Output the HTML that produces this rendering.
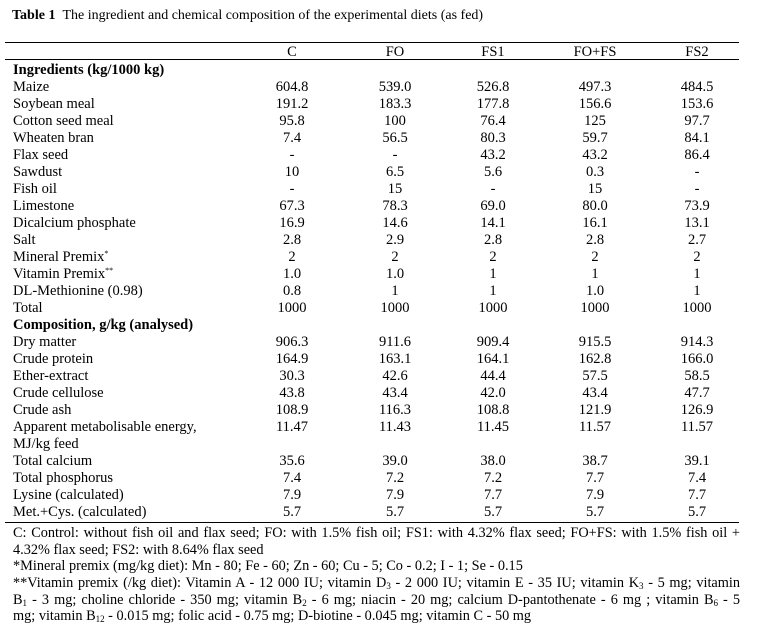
<!DOCTYPE html>
<html><head><meta charset="utf-8">
<style>
body{margin:0;background:#fff;width:758px;height:635px;position:relative;overflow:hidden;font-family:"Liberation Serif",serif;color:#000;font-size:14.5px}
.a{position:absolute;white-space:nowrap;line-height:16px}
.c{transform:translateX(-50%)}
.b{font-weight:bold}
.hr{position:absolute;left:5px;width:734px;height:1px;background:#000}
.fn{position:absolute;left:13px;width:727px;line-height:16px;white-space:nowrap;text-align:justify;text-align-last:justify;font-size:14.3px}
sub{font-size:9px;vertical-align:-2px;line-height:0}
sup{font-size:8px;vertical-align:5px;line-height:0}
</style></head><body>
<div class="a b" style="left:12px;top:8px;font-size:14px">Table 1&nbsp; <span style="font-weight:normal">The ingredient and chemical composition of the experimental diets (as fed)</span></div>
<div class="hr" style="top:42px"></div>
<div class="hr" style="top:59px"></div>
<div class="hr" style="top:522px"></div>
<div id="t"></div>
<div class="fn" style="top:525px">C: Control: without fish oil and flax seed; FO: with 1.5% fish oil; FS1: with 4.32% flax seed; FO+FS: with 1.5% fish oil +</div>
<div class="fn" style="top:542px;text-align-last:left">4.32% flax seed; FS2: with 8.64% flax seed</div>
<div class="fn" style="top:558px;text-align-last:left">*Mineral premix (mg/kg diet): Mn - 80; Fe - 60; Zn - 60; Cu - 5; Co - 0.2; I - 1; Se - 0.15</div>
<div class="fn" style="top:575px">**Vitamin premix (/kg diet): Vitamin A - 12 000 IU; vitamin D<sub>3</sub> - 2 000 IU; vitamin E - 35 IU; vitamin K<sub>3</sub> - 5 mg; vitamin</div>
<div class="fn" style="top:592px">B<sub>1</sub> - 3 mg; choline chloride - 350 mg; vitamin B<sub>2</sub> - 6 mg; niacin - 20 mg; calcium D-pantothenate - 6 mg ; vitamin B<sub>6</sub> - 5</div>
<div class="fn" style="top:608px;text-align-last:left">mg; vitamin B<sub>12</sub> - 0.015 mg; folic acid - 0.75 mg; D-biotine - 0.045 mg; vitamin C - 50 mg</div>
<script>
const cols=[292,395,493,595,697];
const header=["C","FO","FS1","FO+FS","FS2"];
const rows=[
["b","Ingredients (kg/1000 kg)"],
["Maize","604.8","539.0","526.8","497.3","484.5"],
["Soybean meal","191.2","183.3","177.8","156.6","153.6"],
["Cotton seed meal","95.8","100","76.4","125","97.7"],
["Wheaten bran","7.4","56.5","80.3","59.7","84.1"],
["Flax seed","-","-","43.2","43.2","86.4"],
["Sawdust","10","6.5","5.6","0.3","-"],
["Fish oil","-","15","-","15","-"],
["Limestone","67.3","78.3","69.0","80.0","73.9"],
["Dicalcium phosphate","16.9","14.6","14.1","16.1","13.1"],
["Salt","2.8","2.9","2.8","2.8","2.7"],
["Mineral Premix<sup>*</sup>","2","2","2","2","2"],
["Vitamin Premix<sup>**</sup>","1.0","1.0","1","1","1"],
["DL-Methionine (0.98)","0.8","1","1","1.0","1"],
["Total","1000","1000","1000","1000","1000"],
["b","Composition, g/kg (analysed)"],
["Dry matter","906.3","911.6","909.4","915.5","914.3"],
["Crude protein","164.9","163.1","164.1","162.8","166.0"],
["Ether-extract","30.3","42.6","44.4","57.5","58.5"],
["Crude cellulose","43.8","43.4","42.0","43.4","47.7"],
["Crude ash","108.9","116.3","108.8","121.9","126.9"],
["Apparent metabolisable energy,","11.47","11.43","11.45","11.57","11.57"],
["MJ/kg feed"],
["Total calcium","35.6","39.0","38.0","38.7","39.1"],
["Total phosphorus","7.4","7.2","7.2","7.7","7.4"],
["Lysine (calculated)","7.9","7.9","7.7","7.9","7.7"],
["Met.+Cys. (calculated)","5.7","5.7","5.7","5.7","5.7"]
];
const t=document.getElementById('t');
function add(html,cls,x,y,name){
 const d=document.createElement('div');
 d.className='a '+cls;
 d.style.left=x+'px';d.style.top=y+'px';
 d.innerHTML=html;
 
 
 t.appendChild(d);
}
header.forEach((h,i)=>add(h,'c',cols[i],44,'column-header'));
rows.forEach((r,k)=>{
 const y=62+k*17;
 if(r[0]==='b'){add(r[1],'b',13,y,'section-header');return;}
 add(r[0],'',13,y,'row-label');
 for(let i=1;i<r.length;i++)add(r[i],'c',cols[i-1],y,'cell-value');
});
</script>
</body></html>
